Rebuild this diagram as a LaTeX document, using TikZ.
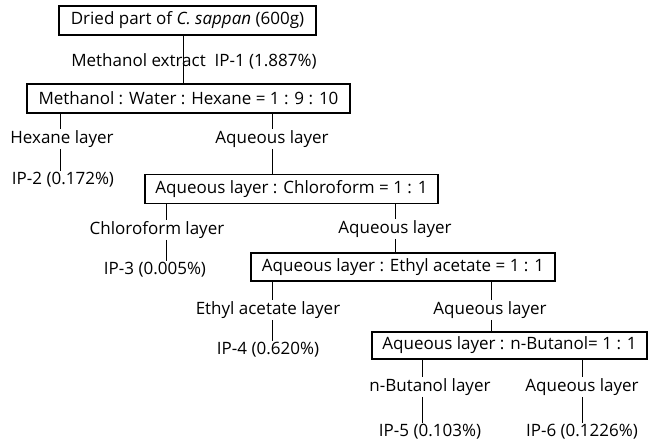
\documentclass[tikz,border=0pt]{standalone}
\usepackage{fontspec}
\setmainfont{Open Sans}
\usetikzlibrary{positioning}
\tikzset{
    stepbox/.style = {draw, line width=1.4pt, inner sep=0pt, font=\fontsize{17}{20}\selectfont},
    layer/.style = {inner sep=1pt, font=\fontsize{17}{20}\selectfont},
}

\begin{document}
\begin{tikzpicture}[x=1pt, y=-1pt, line width=0.8pt]
\useasboundingbox (0,0) rectangle (656,443);

\node[stepbox, minimum width=257pt, minimum height=29pt] (b1) at (187.5,20.5) {Dried part of \textit{C. sappan} (600g)};
\node[stepbox, minimum width=323pt, minimum height=29pt] (b2) at (188.5,98.5) {Methanol : Water : Hexane = 1 : 9 : 10};
\node[stepbox, minimum width=293pt, minimum height=29pt] (b3) at (291.5,189) {Aqueous layer : Chloroform = 1 : 1};
\node[stepbox, minimum width=304pt, minimum height=28pt] (b4) at (403,267) {Aqueous layer : Ethyl acetate = 1 : 1};
\node[stepbox, minimum width=275pt, minimum height=27pt] (b5) at (509.5,345.5) {Aqueous layer : n-Butanol= 1 : 1};

\node[layer] (ext) at (194,61) {Methanol extract\ \ IP-1 (1.887\%)};

\node[layer] (hex) at (62,139) {Hexane layer};
\node[layer] (ip2) at (63,180) {IP-2 (0.172\%)};
\node[layer] (aq1) at (272,139) {Aqueous layer};

\node[layer] (chl) at (157,230) {Chloroform layer};
\node[layer] (ip3) at (155,270) {IP-3 (0.005\%)};
\node[layer] (aq2) at (395,229) {Aqueous layer};

\node[layer] (eth) at (268,310) {Ethyl acetate layer};
\node[layer] (ip4) at (268,350) {IP-4 (0.620\%)};
\node[layer] (aq3) at (490,310) {Aqueous layer};

\node[layer] (but) at (430,387) {n-Butanol layer};
\node[layer] (ip5) at (430,432) {IP-5 (0.103\%)};
\node[layer] (aq4) at (582,387) {Aqueous layer};
\node[layer] (ip6) at (582,432) {IP-6 (0.1226\%)};

\draw (b1.south -| 183,0) -- (b2.north -| 183,0);

\draw (b2.south -| 60,0) -- (hex.north -| 60,0);
\draw (hex.south -| 60,0) -- (ip2.north -| 60,0);
\draw (b2.south -| aq1) -- (aq1.north);
\draw (aq1.south) -- (b3.north -| aq1);

\draw (b3.south -| 166,0) -- (chl.north -| 166,0);
\draw (chl.south -| 166,0) -- (ip3.north -| 166,0);
\draw (b3.south -| aq2) -- (aq2.north);
\draw (aq2.south) -- (b4.north -| aq2);

\draw (b4.south -| 272,0) -- (eth.north -| 272,0);
\draw (eth.south -| 272,0) -- (ip4.north -| 272,0);
\draw (b4.south -| 491,0) -- (aq3.north -| 491,0);
\draw (aq3.south -| 491,0) -- (b5.north -| 491,0);

\draw (b5.south -| 422,0) -- (but.north -| 422,0);
\draw (but.south -| 422,0) -- (ip5.north -| 422,0);
\draw (b5.south -| aq4) -- (aq4.north);
\draw (aq4.south) -- (ip6.north -| aq4);
\end{tikzpicture}
\end{document}
